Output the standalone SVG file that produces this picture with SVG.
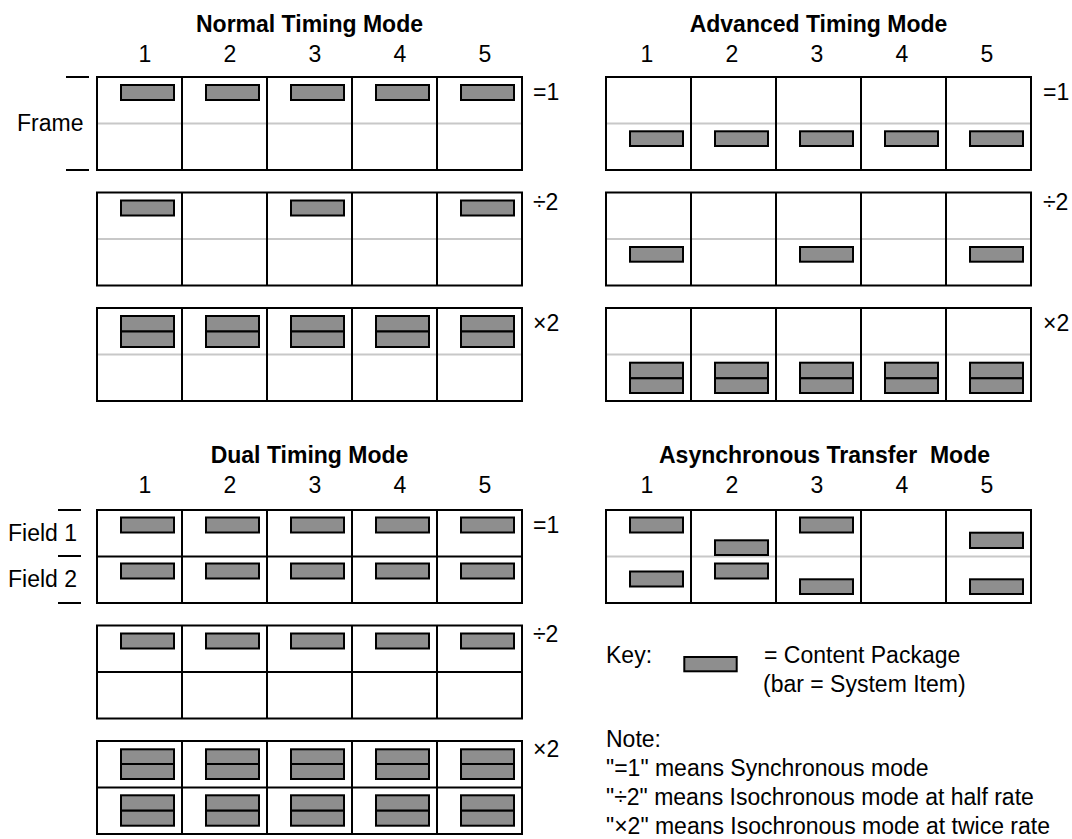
<svg xmlns="http://www.w3.org/2000/svg" width="1072" height="839" viewBox="0 0 1072 839">
<style>
text{font-family:"Liberation Sans",Arial,sans-serif;font-size:23px;fill:#000}
.ttl{font-weight:bold;text-anchor:middle}
.num{text-anchor:middle}
.fr{fill:none;stroke:#000;stroke-width:2}
.cl{stroke:#000;stroke-width:2}
.mid{stroke:#c8c8c8;stroke-width:2}
.bar{fill:#8e8e8e;stroke:#000;stroke-width:2}
</style>
<rect width="1072" height="839" fill="#fff"/>
<defs>
<g id="cols"><line class="cl" x1="85" y1="0" x2="85" y2="93"/><line class="cl" x1="170" y1="0" x2="170" y2="93"/><line class="cl" x1="255" y1="0" x2="255" y2="93"/><line class="cl" x1="340" y1="0" x2="340" y2="93"/><rect class="fr" x="0" y="0" width="425" height="93"/></g>
<line id="gmid" class="mid" x1="0" y1="46.5" x2="425" y2="46.5"/>
<line id="bmid" class="cl" x1="0" y1="46.5" x2="425" y2="46.5"/>
</defs>

<g id="normal-timing">
<text class="ttl" x="309.5" y="32">Normal Timing Mode</text>
<text class="num" x="145" y="62">1</text><text class="num" x="230" y="62">2</text><text class="num" x="315" y="62">3</text><text class="num" x="400" y="62">4</text><text class="num" x="485" y="62">5</text>
<line class="cl" x1="66" y1="77" x2="89" y2="77"/><line class="cl" x1="66" y1="170" x2="89" y2="170"/>
<text x="17" y="131">Frame</text>
<g id="normal-sync">
<use href="#gmid" x="97" y="77"/><use href="#cols" x="97" y="77"/>
<rect class="bar" x="121" y="85" width="53" height="15"/><rect class="bar" x="206" y="85" width="53" height="15"/><rect class="bar" x="291" y="85" width="53" height="15"/><rect class="bar" x="376" y="85" width="53" height="15"/><rect class="bar" x="461" y="85" width="53" height="15"/>
<text x="533" y="99.5">=1</text>
</g>
<g id="normal-half">
<use href="#gmid" x="97" y="192.5"/><use href="#cols" x="97" y="192.5"/>
<rect class="bar" x="121" y="200.5" width="53" height="15"/><rect class="bar" x="291" y="200.5" width="53" height="15"/><rect class="bar" x="461" y="200.5" width="53" height="15"/>
<text x="533" y="209.5">÷2</text>
</g>
<g id="normal-twice">
<use href="#gmid" x="97" y="308"/><use href="#cols" x="97" y="308"/>
<g>
<rect class="bar" x="121" y="316" width="53" height="15.5"/><rect class="bar" x="121" y="331.5" width="53" height="15.5"/>
<rect class="bar" x="206" y="316" width="53" height="15.5"/><rect class="bar" x="206" y="331.5" width="53" height="15.5"/>
<rect class="bar" x="291" y="316" width="53" height="15.5"/><rect class="bar" x="291" y="331.5" width="53" height="15.5"/>
<rect class="bar" x="376" y="316" width="53" height="15.5"/><rect class="bar" x="376" y="331.5" width="53" height="15.5"/>
<rect class="bar" x="461" y="316" width="53" height="15.5"/><rect class="bar" x="461" y="331.5" width="53" height="15.5"/>
</g>
<text x="533" y="330.5">×2</text>
</g>
</g>

<g id="advanced-timing">
<text class="ttl" x="818.5" y="32">Advanced Timing Mode</text>
<text class="num" x="647" y="62">1</text><text class="num" x="732" y="62">2</text><text class="num" x="817" y="62">3</text><text class="num" x="902" y="62">4</text><text class="num" x="987" y="62">5</text>
<g id="advanced-sync">
<use href="#gmid" x="606" y="77"/><use href="#cols" x="606" y="77"/>
<rect class="bar" x="630" y="131.3" width="53" height="14.7"/><rect class="bar" x="715" y="131.3" width="53" height="14.7"/><rect class="bar" x="800" y="131.3" width="53" height="14.7"/><rect class="bar" x="885" y="131.3" width="53" height="14.7"/><rect class="bar" x="970" y="131.3" width="53" height="14.7"/>
<text x="1043" y="99.5">=1</text>
</g>
<g id="advanced-half">
<use href="#gmid" x="606" y="192.5"/><use href="#cols" x="606" y="192.5"/>
<rect class="bar" x="630" y="247" width="53" height="14.7"/><rect class="bar" x="800" y="247" width="53" height="14.7"/><rect class="bar" x="970" y="247" width="53" height="14.7"/>
<text x="1043" y="209.5">÷2</text>
</g>
<g id="advanced-twice">
<use href="#gmid" x="606" y="308"/><use href="#cols" x="606" y="308"/>
<rect class="bar" x="630" y="362.7" width="53" height="15.6"/><rect class="bar" x="630" y="378.3" width="53" height="14.7"/>
<rect class="bar" x="715" y="362.7" width="53" height="15.6"/><rect class="bar" x="715" y="378.3" width="53" height="14.7"/>
<rect class="bar" x="800" y="362.7" width="53" height="15.6"/><rect class="bar" x="800" y="378.3" width="53" height="14.7"/>
<rect class="bar" x="885" y="362.7" width="53" height="15.6"/><rect class="bar" x="885" y="378.3" width="53" height="14.7"/>
<rect class="bar" x="970" y="362.7" width="53" height="15.6"/><rect class="bar" x="970" y="378.3" width="53" height="14.7"/>
<text x="1043" y="330.5">×2</text>
</g>
</g>

<g id="dual-timing">
<text class="ttl" x="309.5" y="463">Dual Timing Mode</text>
<text class="num" x="145" y="493">1</text><text class="num" x="230" y="493">2</text><text class="num" x="315" y="493">3</text><text class="num" x="400" y="493">4</text><text class="num" x="485" y="493">5</text>
<line class="cl" x1="58" y1="510" x2="81" y2="510"/><line class="cl" x1="58" y1="556" x2="81" y2="556"/><line class="cl" x1="58" y1="603" x2="81" y2="603"/>
<text x="8" y="541">Field 1</text>
<text x="8" y="587">Field 2</text>
<g id="dual-sync">
<use href="#bmid" x="97" y="510"/><use href="#cols" x="97" y="510"/>
<rect class="bar" x="121" y="517.5" width="53" height="15"/><rect class="bar" x="206" y="517.5" width="53" height="15"/><rect class="bar" x="291" y="517.5" width="53" height="15"/><rect class="bar" x="376" y="517.5" width="53" height="15"/><rect class="bar" x="461" y="517.5" width="53" height="15"/>
<rect class="bar" x="121" y="563.5" width="53" height="15"/><rect class="bar" x="206" y="563.5" width="53" height="15"/><rect class="bar" x="291" y="563.5" width="53" height="15"/><rect class="bar" x="376" y="563.5" width="53" height="15"/><rect class="bar" x="461" y="563.5" width="53" height="15"/>
<text x="533" y="533">=1</text>
</g>
<g id="dual-half">
<use href="#bmid" x="97" y="625.5"/><use href="#cols" x="97" y="625.5"/>
<rect class="bar" x="121" y="633.5" width="53" height="15"/><rect class="bar" x="206" y="633.5" width="53" height="15"/><rect class="bar" x="291" y="633.5" width="53" height="15"/><rect class="bar" x="376" y="633.5" width="53" height="15"/><rect class="bar" x="461" y="633.5" width="53" height="15"/>
<text x="533" y="642">÷2</text>
</g>
<g id="dual-twice">
<use href="#bmid" x="97" y="741"/><use href="#cols" x="97" y="741"/>
<rect class="bar" x="121" y="749.3" width="53" height="14.7"/><rect class="bar" x="121" y="764" width="53" height="15"/><rect class="bar" x="121" y="795.3" width="53" height="15.4"/><rect class="bar" x="121" y="810.7" width="53" height="15"/>
<rect class="bar" x="206" y="749.3" width="53" height="14.7"/><rect class="bar" x="206" y="764" width="53" height="15"/><rect class="bar" x="206" y="795.3" width="53" height="15.4"/><rect class="bar" x="206" y="810.7" width="53" height="15"/>
<rect class="bar" x="291" y="749.3" width="53" height="14.7"/><rect class="bar" x="291" y="764" width="53" height="15"/><rect class="bar" x="291" y="795.3" width="53" height="15.4"/><rect class="bar" x="291" y="810.7" width="53" height="15"/>
<rect class="bar" x="376" y="749.3" width="53" height="14.7"/><rect class="bar" x="376" y="764" width="53" height="15"/><rect class="bar" x="376" y="795.3" width="53" height="15.4"/><rect class="bar" x="376" y="810.7" width="53" height="15"/>
<rect class="bar" x="461" y="749.3" width="53" height="14.7"/><rect class="bar" x="461" y="764" width="53" height="15"/><rect class="bar" x="461" y="795.3" width="53" height="15.4"/><rect class="bar" x="461" y="810.7" width="53" height="15"/>
<text x="533" y="757">×2</text>
</g>
</g>

<g id="async-transfer">
<text x="659" y="463" font-weight="bold" xml:space="preserve">Asynchronous Transfer  Mode</text>
<text class="num" x="647" y="493">1</text><text class="num" x="732" y="493">2</text><text class="num" x="817" y="493">3</text><text class="num" x="902" y="493">4</text><text class="num" x="987" y="493">5</text>
<use href="#gmid" x="606" y="510"/><use href="#cols" x="606" y="510"/>
<rect class="bar" x="630" y="517.5" width="53" height="15"/><rect class="bar" x="630" y="571.5" width="53" height="15"/>
<rect class="bar" x="715" y="540.3" width="53" height="14.7"/><rect class="bar" x="715" y="563.5" width="53" height="15"/>
<rect class="bar" x="800" y="517.5" width="53" height="15"/><rect class="bar" x="800" y="579.3" width="53" height="14.7"/>
<rect class="bar" x="970" y="532.7" width="53" height="15.3"/><rect class="bar" x="970" y="579.3" width="53" height="14.7"/>
</g>

<g id="key">
<text x="606" y="663">Key:</text>
<rect class="bar" x="684.3" y="657" width="52.4" height="14.3"/>
<text x="764" y="663">= Content Package</text>
<text x="763" y="692">(bar = System Item)</text>
</g>

<g id="note">
<text x="606" y="746.5">Note:</text>
<text x="606" y="776">"=1" means Synchronous mode</text>
<text x="606" y="805">"÷2" means Isochronous mode at half rate</text>
<text x="606" y="834">"×2" means Isochronous mode at twice rate</text>
</g>
<g id="connectors"></g>
</svg>
